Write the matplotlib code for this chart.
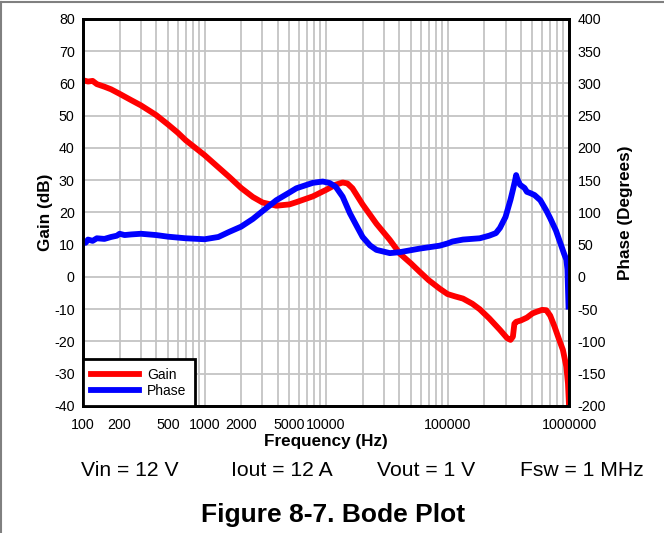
import matplotlib
matplotlib.use("Agg")
import matplotlib.pyplot as plt
from matplotlib.ticker import LogLocator, NullFormatter
from matplotlib.lines import Line2D

plt.rcParams['font.family'] = ['Liberation Sans', 'DejaVu Sans']
plt.rcParams['axes.unicode_minus'] = False

# measured loop response
gain_freq = [100, 110, 120, 130, 150, 170, 200, 250, 300, 350, 400, 500, 600, 700,
             850, 1000, 1300, 1600, 2000, 2500, 3000, 3900, 5000, 5700, 7800,
             10000, 12000, 13700, 15000, 16500, 20000, 26000, 33500, 40600, 50000,
             59000, 70000, 86000, 100000, 115000, 134000, 160000, 184000, 220000,
             270000, 310000, 330000, 345000, 355000, 367000, 400000, 450000,
             500000, 540000, 600000, 650000, 700000, 760000, 830000, 890000,
             950000, 980000, 1000000]
gain_db = [61.0, 60.6, 60.8, 59.8, 59.0, 58.2, 56.8, 54.8, 53.2, 51.6, 50.2, 47.3,
           44.8, 42.4, 39.9, 37.8, 34.0, 31.0, 27.6, 24.8, 23.1, 22.1, 22.5, 23.2,
           25.0, 27.0, 28.6, 29.3, 29.0, 27.5, 22.5, 16.5, 11.5, 7.2, 4.2, 1.6,
           -1.0, -3.6, -5.3, -6.0, -6.7, -8.3, -10.0, -12.8, -16.4, -19.0, -19.5,
           -18.5, -14.5, -13.9, -13.5, -12.6, -11.3, -10.8, -10.2, -10.3, -12.0,
           -15.4, -19.5, -22.6, -27.8, -33.0, -40.0]

phase_freq = [100, 105, 110, 120, 130, 150, 170, 190, 200, 220, 250, 300, 400,
              500, 700, 1000, 1300, 1600, 2000, 2500, 3000, 3900, 5000, 5700,
              7800, 9400, 10700, 12000, 13700, 15700, 18000, 20000, 23000, 26000,
              33500, 40600, 59000, 86000, 100000, 110000, 134000, 184000, 220000,
              250000, 270000, 300000, 330000, 345000, 360000, 367000, 375000,
              395000, 430000, 450000, 480000, 520000, 580000, 650000, 700000,
              780000, 850000, 910000, 950000, 970000, 990000]
phase_deg = [54.7, 53.0, 58.0, 56.0, 60.0, 59.0, 62.0, 64.0, 67.0, 65.0, 66.0, 67.0,
             65.0, 62.5, 60.0, 58.5, 62.0, 70.0, 78.0, 90.0, 102.0, 119.0, 131.0,
             137.5, 146.0, 148.0, 145.7, 140.0, 124.5, 99.0, 78.0, 62.0, 49.0, 42.0,
             37.0, 38.5, 44.0, 48.5, 52.0, 55.0, 58.0, 60.0, 64.0, 68.0, 76.0, 93.0,
             120.0, 135.0, 150.0, 158.0, 152.0, 143.0, 138.0, 132.0, 130.0, 127.0,
             119.0, 103.0, 91.0, 72.0, 52.0, 36.0, 27.0, 12.0, -46.0]

freq_ticks = [100, 200, 500, 1000, 2000, 5000, 10000, 100000, 1000000]
gain_ticks = list(range(-40, 81, 10))
phase_ticks = list(range(-200, 401, 50))

fig = plt.figure(figsize=(6.64, 5.33), dpi=100)
ax = fig.add_axes([0.125, 0.2383, 0.732, 0.7261])
ax2 = ax.twinx()

ax.set_xscale('log')
ax.set_xlim(100, 1e6)
ax.set_ylim(-40, 80)
ax2.set_ylim(-200, 400)

ax.set_xticks(freq_ticks, [str(f) for f in freq_ticks])
ax.xaxis.set_minor_locator(LogLocator(base=10, subs=range(2, 10), numticks=20))
ax.xaxis.set_minor_formatter(NullFormatter())
ax.set_yticks(gain_ticks)
ax2.set_yticks(phase_ticks)

ax.grid(True, which='both', axis='x', color='#c4c4c4', lw=1.3)
ax.grid(True, which='major', axis='y', color='#c4c4c4', lw=1.3)
ax.set_axisbelow(True)

for a in (ax, ax2):
    a.tick_params(which='both', length=0, labelsize=10.3, pad=6)
    for s in a.spines.values():
        s.set_linewidth(2)
        s.set_color('black')
ax.tick_params(axis='x', pad=9)

ax.plot(gain_freq, gain_db, color='#ff0000', lw=4.2, solid_joinstyle='round')
ax2.plot(phase_freq, phase_deg, color='#0000ff', lw=4.2, solid_joinstyle='round')

ax.set_xlabel('Frequency (Hz)', fontsize=12.3, fontweight='bold', labelpad=1)
ax.set_ylabel('Gain (dB)', fontsize=12.3, fontweight='bold', labelpad=1)
ax2.set_ylabel('Phase (Degrees)', fontsize=12.3, fontweight='bold', labelpad=9)

handles = [Line2D([], [], color='#ff0000', lw=4.2), Line2D([], [], color='#0000ff', lw=4.2)]
leg = ax2.legend(handles, ['Gain', 'Phase'], loc='lower left', fontsize=10,
                 handlelength=3.4, borderaxespad=0, fancybox=False,
                 framealpha=1, edgecolor='black', borderpad=0.6,
                 labelspacing=0.15, handletextpad=0.6)
leg.get_frame().set_linewidth(2)

# test conditions and caption
conds = [('Vin = 12 V', 130), ('Iout = 12 A', 282), ('Vout = 1 V', 426),
         ('Fsw = 1 MHz', 581.5)]
for txt, xpx in conds:
    fig.text(xpx / 664, 1 - 470 / 533, txt, fontsize=15.2, ha='center', va='center')
fig.text(333 / 664, 1 - 515 / 533, 'Figure 8-7. Bode Plot', fontsize=19,
         fontweight='bold', ha='center', va='center')

# page border
fig.add_artist(Line2D([0, 1], [0.996, 0.996], color='#808080', lw=1.5))
fig.add_artist(Line2D([0.0015, 0.0015], [0, 0.996], color='#808080', lw=1.5))

fig.savefig('out.png', dpi=100)
